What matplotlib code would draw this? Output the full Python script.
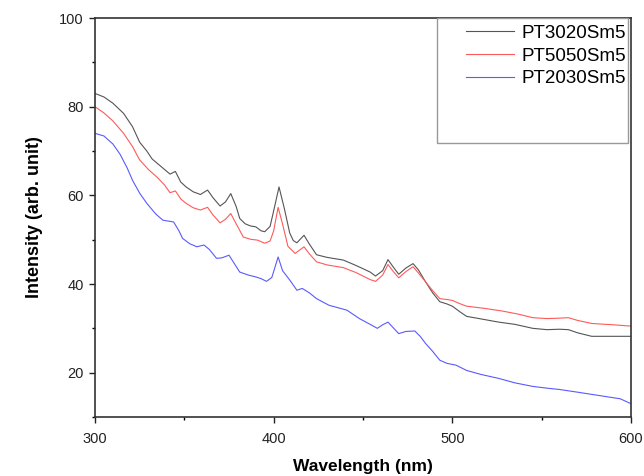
import matplotlib
matplotlib.use('Agg')
import matplotlib.pyplot as plt
from matplotlib.patches import Rectangle
from matplotlib.ticker import MultipleLocator

plt.rcParams['font.family'] = ['Liberation Sans', 'DejaVu Sans']

# Emission spectra
wl_3020 = [300, 305, 310, 316, 321, 325, 329, 332, 337, 342, 345, 348, 351, 355, 359, 363,
           366, 370, 373, 376, 379, 381, 384, 387, 390, 393, 395, 398, 400, 403, 406, 409,
           411, 413, 417, 420, 424, 430, 439, 446, 454, 457, 461, 464, 467, 470, 474, 478,
           481, 485, 489, 493, 497, 500, 504, 508, 515, 526, 535, 545, 553, 560, 565, 570,
           578, 590, 600]
int_3020 = [83.0, 82.2, 80.8, 78.5, 75.5, 72.0, 70.0, 68.2, 66.5, 64.8, 65.4, 63.0, 61.9, 60.8, 60.2, 61.2,
            59.5, 57.6, 58.5, 60.4, 57.5, 54.8, 53.6, 53.1, 52.9, 52.0, 51.8, 53.0, 56.5, 61.9, 57.0, 51.5,
            49.8, 49.3, 51.0, 49.0, 46.6, 46.0, 45.4, 44.2, 42.7, 41.8, 43.0, 45.5, 43.8, 42.2, 43.6, 44.6,
            43.2, 40.5, 38.0, 36.0, 35.5, 35.0, 33.8, 32.7, 32.2, 31.4, 30.9, 30.0, 29.7, 29.8, 29.7, 29.0,
            28.2, 28.2, 28.2]

wl_5050 = [300, 305, 310, 316, 321, 325, 330, 335, 339, 342, 345, 348, 351, 355, 359, 363,
           366, 370, 373, 376, 379, 383, 387, 391, 395, 398, 400, 402.5, 405, 408, 412,
           417, 420, 424, 430, 439, 446, 454, 457, 461, 464, 467, 470, 474, 478, 481, 485,
           489, 493, 497, 500, 504, 508, 518, 528, 537, 545, 553, 560, 565, 570, 578, 590, 600]
int_5050 = [80.0, 78.6, 76.8, 74.0, 71.0, 68.0, 65.8, 64.0, 62.3, 60.6, 61.0, 59.2, 58.2, 57.2, 56.7, 57.3,
            55.6, 53.8, 54.6, 55.9, 53.6, 50.6, 50.1, 49.9, 49.2, 49.7, 52.0, 57.3, 53.5, 48.5, 46.9,
            48.4, 46.8, 45.0, 44.3, 43.7, 42.6, 41.0, 40.6, 42.0, 44.4, 42.8, 41.4, 42.8, 43.9, 42.5, 40.5,
            38.5, 36.7, 36.5, 36.3, 35.6, 35.0, 34.5, 33.9, 33.2, 32.4, 32.2, 32.3, 32.4, 31.8, 31.1, 30.8, 30.5]

wl_2030 = [300, 305, 310, 314, 318, 321, 325, 329, 334, 338, 341, 344, 347, 349, 353, 357, 361,
           364, 368, 371, 375, 378, 381, 386, 390, 393, 396, 399, 402.5, 405, 409, 413,
           416, 420, 424, 431, 441, 448, 454, 458, 461, 464, 467, 470, 474, 479, 482, 485,
           489, 493, 497, 502, 508, 516, 526, 535, 545, 553, 560, 570, 578, 586, 594, 600]
int_2030 = [74.0, 73.4, 71.6, 69.3, 66.2, 63.4, 60.5, 58.2, 55.8, 54.4, 54.2, 54.0, 52.0, 50.3, 49.1, 48.4, 48.8,
            47.8, 45.8, 45.9, 46.5, 44.6, 42.7, 42.0, 41.6, 41.2, 40.6, 41.5, 46.1, 43.0, 40.9, 38.6,
            39.0, 38.0, 36.7, 35.2, 34.1, 32.2, 30.9, 30.0, 30.8, 31.4, 30.1, 28.8, 29.3, 29.4, 28.2, 26.6,
            24.8, 22.8, 22.1, 21.7, 20.5, 19.6, 18.7, 17.7, 16.9, 16.5, 16.2, 15.6, 15.1, 14.6, 14.1, 13.0]

labels = ['PT3020Sm5', 'PT5050Sm5', 'PT2030Sm5']

fig = plt.figure(figsize=(6.44, 4.76), dpi=100)
ax = fig.add_axes([0.1475, 0.124, 0.8323, 0.838])

ax.plot(wl_3020, int_3020, color='#555555', lw=0.8, label=labels[0])
ax.plot(wl_5050, int_5050, color='#ff5a5a', lw=0.8, label=labels[1])
ax.plot(wl_2030, int_2030, color='#5a5aff', lw=0.8, label=labels[2])

ax.set_xlim(300, 600)
ax.set_ylim(10, 100)
ax.xaxis.set_major_locator(MultipleLocator(100))
ax.xaxis.set_minor_locator(MultipleLocator(50))
ax.yaxis.set_major_locator(MultipleLocator(20))
ax.yaxis.set_minor_locator(MultipleLocator(10))
ax.tick_params(which='major', direction='out', length=4.5, width=1, labelsize=10.5, colors='#222222')
ax.tick_params(axis='x', which='major', pad=6)
ax.tick_params(which='minor', direction='out', length=2.5, width=1)
for sp in ax.spines.values():
    sp.set_color('#333333')
    sp.set_linewidth(1.2)

ax.set_xlabel('Wavelength (nm)', fontsize=12.5, fontweight='bold', labelpad=10)
ax.set_ylabel('Intensity (arb. unit)', fontsize=13, fontweight='bold', labelpad=12)

# legend box is much taller than its entries in the original
ax.add_patch(Rectangle((0.639, 0.687), 0.355, 0.313, transform=ax.transAxes,
                       fill=False, edgecolor='#999999', lw=1, zorder=5))
ax.legend(loc='upper right', bbox_to_anchor=(1.004, 1.0), frameon=False, fontsize=13.5,
          handlelength=2.6, handletextpad=0.4, labelspacing=0.3, borderaxespad=0.0,
          borderpad=0.35)

fig.savefig('out.png', dpi=100)
